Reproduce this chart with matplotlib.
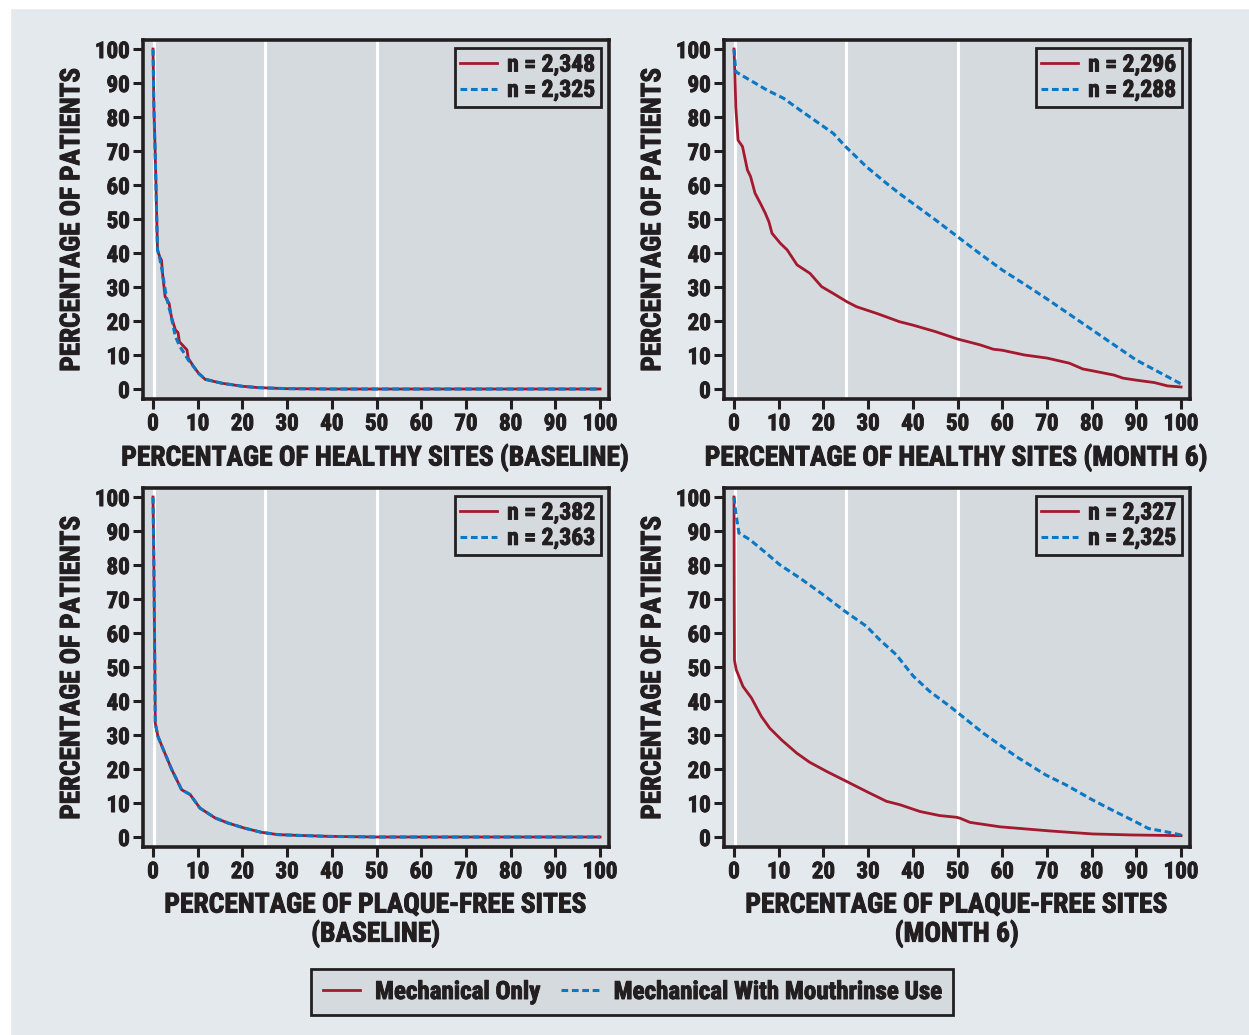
import matplotlib.pyplot as plt
import matplotlib.patheffects as pe
from matplotlib.lines import Line2D
from matplotlib.patches import Rectangle

# font: condensed bold, closest installed match
plt.rcParams['font.family'] = ['Liberation Sans Narrow', 'DejaVu Sans Condensed',
                               'Roboto Condensed', 'Roboto', 'DejaVu Sans']
plt.rcParams['font.weight'] = 'bold'
WT = 'bold'

RED = '#a3192d'
BLUE = '#0a78c4'
PANEL = '#d5dadf'
PAGE = '#e4e9ed'
INK = '#231f20'
# extra stroke to mimic the heavy print weight
HEAVY = [pe.withStroke(linewidth=0.7, foreground=INK)]

# --- healthy sites, baseline ---
hb_red_x = [0, 0.2, 0.6, 1, 1.5, 1.9, 2.2, 2.7, 3.6, 4.1, 5, 5.6, 5.9, 7.6, 7.9, 9.1, 10.2,
            11.7, 15.4, 20, 23.6, 30, 40, 100]
hb_red_y = [100, 83, 63.4, 40.9, 38.9, 37.9, 33, 27.2, 25.2, 21.3, 17.4, 16.6, 13.9, 11.5, 9,
            6.6, 4.6, 2.8, 1.7, 0.8, 0.4, 0.1, 0, 0]
hb_blue_x = [0, 0.2, 0.6, 1, 1.5, 2, 2.5, 3, 3.9, 5, 6, 7, 8, 9, 10.2, 11.7, 15.4, 20, 23.6,
             30, 40, 100]
hb_blue_y = [100, 83, 63, 41, 38.5, 35, 31, 27, 22.3, 15.5, 12.5, 10.5, 8.3, 6.7, 4.6, 2.9,
             1.7, 0.8, 0.4, 0.1, 0, 0]

# --- healthy sites, month 6 ---
h6_red_x = [0, 0.2, 0.4, 0.9, 1.9, 3, 3.7, 4.7, 5.9, 7, 7.8, 8.5, 10.4, 11.9, 14.1, 17, 19.6,
            22.2, 25.2, 27.4, 32, 37, 40, 45, 50, 55, 58, 60, 65, 70, 75, 78, 80, 85, 87, 90,
            94, 97, 100]
h6_red_y = [100, 92.8, 83, 73.2, 71.3, 64.4, 62.5, 57.6, 54.6, 51.7, 49.2, 45.8, 42.8, 40.9,
            36.5, 34, 30.1, 28.1, 25.7, 24.2, 22.2, 19.8, 18.8, 16.9, 14.7, 13, 11.7, 11.4,
            10, 9.1, 7.6, 5.9, 5.4, 4.1, 3.2, 2.6, 1.9, 0.9, 0.6]
h6_blue_x = [0, 0.4, 2.2, 7.4, 11.1, 14.8, 18.5, 22.2, 24.8, 29.6, 34.1, 37, 40, 45, 50, 55,
             60, 65, 70, 75, 80, 85, 90, 95, 100]
h6_blue_y = [100, 93.3, 91.9, 87.9, 85.5, 82, 78.6, 75.2, 71.5, 65.4, 60.5, 57.5, 54.6, 49.8,
             44.8, 39.8, 35, 30.8, 26.5, 22, 17.5, 13, 8.5, 5, 1.5]

# --- plaque-free sites, baseline ---
pb_x = [0, 0.2, 0.4, 0.5, 1.1, 2, 4.2, 6.4, 8.3, 10.5, 13.9, 16.8, 20.5, 24.2, 27.9, 32, 39,
        50, 100]
pb_y = [100, 80, 50, 33.5, 29.6, 26.7, 19.8, 13.9, 12.5, 8.5, 5.6, 4.1, 2.6, 1.4, 0.7, 0.5,
        0.2, 0, 0]

# --- plaque-free sites, month 6 ---
p6_red_x = [0, 0.05, 0.1, 0.5, 2, 3.9, 6.1, 8, 10.6, 14, 16.9, 20.7, 25.1, 29.6, 34.1, 37.1,
            41.6, 46, 49.8, 50.6, 52.8, 59.5, 70.5, 80.2, 89, 100]
p6_red_y = [100, 70, 52, 49.2, 44.3, 40.9, 35.5, 32, 28.6, 24.7, 22, 19.3, 16.4, 13.4, 10.5,
            9.5, 7.5, 6.3, 5.8, 5.5, 4.3, 3, 1.8, 0.9, 0.6, 0.4]
p6_blue_x = [0, 0.4, 1.1, 3.5, 7.2, 10.2, 14.7, 19.9, 24.8, 29.6, 32.6, 36.3, 40.1, 43.8,
             48.4, 55.8, 63.2, 69.8, 74.3, 80.2, 84.6, 89.8, 92.7, 96.4, 100]
p6_blue_y = [100, 95.3, 89.4, 87.5, 83.5, 80.1, 76.2, 71.3, 66.4, 62, 58, 53.6, 47.3, 42.8,
             38.3, 30.5, 23.6, 18.2, 15.3, 10.9, 7.9, 4.5, 2.5, 1.6, 0.6]

panels = [
    (hb_red_x, hb_red_y, hb_blue_x, hb_blue_y, 'n = 2,348', 'n = 2,325',
     'PERCENTAGE OF HEALTHY SITES (BASELINE)'),
    (h6_red_x, h6_red_y, h6_blue_x, h6_blue_y, 'n = 2,296', 'n = 2,288',
     'PERCENTAGE OF HEALTHY SITES (MONTH 6)'),
    (pb_x, pb_y, pb_x, pb_y, 'n = 2,382', 'n = 2,363',
     'PERCENTAGE OF PLAQUE-FREE SITES\n(BASELINE)'),
    (p6_red_x, p6_red_y, p6_blue_x, p6_blue_y, 'n = 2,327', 'n = 2,325',
     'PERCENTAGE OF PLAQUE-FREE SITES\n(MONTH 6)'),
]

W, H = 1249, 1035
fig = plt.figure(figsize=(W / 100, H / 100), dpi=100)
fig.patch.set_facecolor(PAGE)
# white page margin on the left and top
fig.patches.append(Rectangle((0, 0), 10 / W, 1, transform=fig.transFigure,
                             color='white', zorder=0))
fig.patches.append(Rectangle((0, 1 - 8 / H), 1, 8 / H, transform=fig.transFigure,
                             color='white', zorder=0))

boxes = [(143, 40), (724, 40), (143, 488), (724, 488)]  # left, top in pixels
aw, ah = 466, 359

for (rx, ry, bx, by, nr, nb, xlab), (l, t) in zip(panels, boxes):
    ax = fig.add_axes([l / W, 1 - (t + ah) / H, aw / W, ah / H])
    ax.set_facecolor(PANEL)
    for x0 in [0.3, 25, 50]:
        ax.axvline(x0, color='white', lw=2.2, zorder=1)
    ax.plot(rx, ry, color=RED, lw=2.0, zorder=3, label=nr)
    ax.plot(bx, by, color=BLUE, lw=2.2, ls=(0, (2.2, 1.2)), zorder=4, label=nb)
    ax.set_xlim(-2.24, 102.0)
    ax.set_ylim(-2.94, 102.65)
    ax.set_xticks(range(0, 101, 10))
    ax.set_yticks(range(0, 101, 10))
    for s in ax.spines.values():
        s.set_linewidth(2.6)
        s.set_color(INK)
    ax.tick_params(direction='out', length=7.5, width=2.2, color=INK,
                   labelsize=16.5, labelcolor=INK, pad=2)
    for lab in ax.get_xticklabels() + ax.get_yticklabels():
        lab.set_fontweight(WT)
        lab.set_path_effects(HEAVY)
    ax.set_ylabel('PERCENTAGE OF PATIENTS', fontsize=19.5, fontweight=WT,
                  color=INK, labelpad=7, path_effects=HEAVY)
    ax.set_xlabel(xlab, fontsize=19.8, fontweight=WT, color=INK,
                  labelpad=6, linespacing=1.05, path_effects=HEAVY)
    leg = ax.legend(loc='upper right', fontsize=17, frameon=True, fancybox=False,
                    handlelength=1.55, borderpad=0.22, labelspacing=0.1,
                    handletextpad=0.45, borderaxespad=0.35)
    leg.get_frame().set_edgecolor(INK)
    leg.get_frame().set_linewidth(2.0)
    leg.get_frame().set_facecolor(PANEL)
    leg.get_frame().set_alpha(1)
    for txt in leg.get_texts():
        txt.set_fontweight(WT)
        txt.set_color(INK)
        txt.set_path_effects(HEAVY)

handles = [Line2D([], [], color=RED, lw=2.0),
           Line2D([], [], color=BLUE, lw=2.2, ls=(0, (2.2, 1.2)))]
fleg = fig.legend(handles, ['Mechanical Only', 'Mechanical With Mouthrinse Use'],
                  loc='center', bbox_to_anchor=(632 / W, 1 - 992 / H), ncol=2,
                  fontsize=18, frameon=True, fancybox=False, handlelength=1.5,
                  columnspacing=0.85, handletextpad=0.6, borderpad=0.45)
fleg.get_frame().set_edgecolor(INK)
fleg.get_frame().set_linewidth(2.0)
fleg.get_frame().set_facecolor(PANEL)
fleg.get_frame().set_alpha(1)
for txt in fleg.get_texts():
    txt.set_fontweight(WT)
    txt.set_color(INK)
    txt.set_path_effects(HEAVY)

fig.savefig('out.png', dpi=100, facecolor=fig.get_facecolor())
